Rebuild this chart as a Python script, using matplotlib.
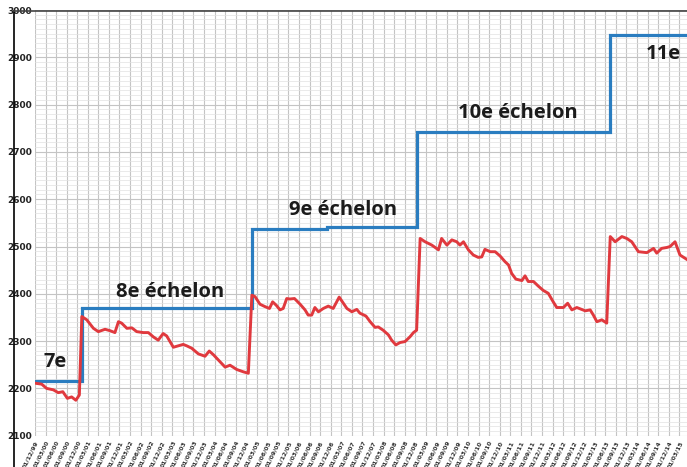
import matplotlib.pyplot as plt
import numpy as np
from matplotlib.lines import Line2D

# months counted from 01/12/99
red_month = [0, 1.9, 3.3, 5.2, 6.6, 7.9, 9.2, 10.4, 11.6, 12.6,
             13.3, 14.7, 16.6, 18.0, 19.9, 21.3, 22.7, 23.7, 24.6, 26.1,
             27.5, 28.9, 30.8, 32.2, 33.6, 35.0, 36.4, 37.4, 39.3, 40.7,
             42.1, 43.1, 44.5, 46.4, 48.3, 49.5, 50.7, 52.6, 54.0, 55.4,
             57.3, 59.2, 60.6, 61.6, 62.5, 63.9, 65.3, 66.6, 67.5, 68.5,
             69.6, 70.5, 71.5, 72.4, 73.7, 75.3, 76.7, 77.6, 78.6, 79.5,
             80.5, 81.9, 83.3, 84.7, 86.4, 87.6, 88.6, 90.0, 91.4, 92.3,
             94.0, 95.2, 96.6, 97.5, 98.9, 100.4, 101.3, 102.5, 103.7, 105.1,
             106.5, 107.5, 108.4, 109.4, 110.8, 112.7, 114.6, 115.5, 117.0, 118.4,
             119.8, 120.7, 121.7, 123.1, 124.5, 125.9, 126.9, 127.8, 129.3, 130.7,
             132.1, 133.5, 134.5, 135.4, 136.6, 138.3, 139.2, 140.1, 141.6, 143.0,
             144.4, 145.8, 147.2, 148.2, 150.1, 151.3, 152.5, 153.9, 155.3, 156.3,
             157.7, 158.6, 159.6, 161.0, 162.4, 163.4, 164.8, 166.7, 168.1, 169.5,
             171.4, 173.8, 175.7, 176.6, 178.0, 179.5, 180.4, 181.8, 183.2, 185.1]
red_value = [2211, 2209, 2200, 2197, 2191, 2193, 2179, 2182, 2175, 2186,
             2352, 2345, 2327, 2320, 2325, 2322, 2318, 2341, 2338, 2327,
             2328, 2320, 2318, 2318, 2309, 2302, 2316, 2311, 2287, 2290,
             2293, 2290, 2285, 2273, 2268, 2279, 2271, 2256, 2245, 2249,
             2240, 2235, 2232, 2397, 2394, 2378, 2373, 2369, 2383, 2376,
             2366, 2369, 2390, 2389, 2390, 2378, 2366, 2355, 2355, 2371,
             2362, 2369, 2374, 2369, 2393, 2380, 2369, 2362, 2367, 2359,
             2353, 2341, 2329, 2330, 2323, 2313, 2302, 2292, 2297, 2299,
             2309, 2318, 2323, 2517, 2510, 2503, 2493, 2517, 2503, 2514,
             2510, 2503, 2510, 2493, 2482, 2477, 2478, 2494, 2489, 2489,
             2480, 2468, 2461, 2443, 2431, 2428, 2438, 2426, 2426, 2416,
             2407, 2401, 2383, 2371, 2371, 2380, 2366, 2371, 2367, 2364,
             2366, 2355, 2341, 2345, 2338, 2521, 2510, 2521, 2517, 2510,
             2489, 2487, 2496, 2486, 2496, 2498, 2500, 2510, 2482, 2473]

blue_month = [0, 13.3, 61.6, 83.0, 108.6, 163.2, 186]
blue_value = [2215, 2371, 2538, 2542, 2742, 2948, 2948]

labels = ['7e', '8e échelon', '9e échelon', '10e échelon', '11e']
label_month = [5.7, 38.4, 87.5, 137.2, 178.4]
label_value = [2255, 2404, 2577, 2782, 2907]

tick_month = list(range(0, 184, 3))
tick_labels = []
for m in tick_month:
    mm = (12 + m - 1) % 12 + 1
    yy = (1999 + (11 + m) // 12) % 100
    tick_labels.append('01/%02d/%02d' % (mm, yy))

fig = plt.figure(figsize=(6.87, 4.67), dpi=100)
ax = fig.add_axes([35 / 687, 31.3 / 467, 1 - 35 / 687, 425.7 / 467])

ax.set_xlim(0, 185.2)
ax.set_ylim(2100, 3000)
ax.set_yticks(range(2100, 3001, 100))
ax.set_yticks(range(2100, 3001, 10), minor=True)
ax.set_xticks(tick_month)
ax.set_xticklabels(tick_labels, rotation=64, ha='right', rotation_mode='anchor',
                   fontsize=4.4, fontweight='bold', color='#333333')
ax.set_yticklabels([str(v) for v in range(2100, 3001, 100)],
                   fontsize=6.5, fontweight='bold', color='#222222')
ax.tick_params(axis='both', which='both', length=0)
ax.tick_params(axis='y', pad=2)
ax.tick_params(axis='x', pad=3)

ax.grid(True, axis='y', which='minor', color='#e2e2e2', lw=0.5)
ax.grid(True, axis='y', which='major', color='#c4c4c4', lw=0.8)
ax.grid(True, axis='x', which='major', color='#c4c4c4', lw=0.8)
ax.set_axisbelow(True)
for s in ax.spines.values():
    s.set_visible(False)

ax.step(blue_month, blue_value, where='post', color='#2a7dc0', lw=2.3, solid_joinstyle='miter')
ax.plot(red_month, red_value, color='#e0393e', lw=2.1)

for t, m, v in zip(labels, label_month, label_value):
    ax.text(m, v, t, ha='center', va='center', fontsize=14.5, fontweight='bold',
            family='Open Sans', color='#1b1b1b')

# frame lines of the scanned figure
fig.add_artist(Line2D([13.5 / 687, 13.5 / 687], [0, 456.5 / 467], color='black', lw=1.2))
fig.add_artist(Line2D([13.5 / 687, 1], [456.5 / 467, 456.5 / 467], color='#444444', lw=1.2))

fig.savefig('out.png', dpi=100)
